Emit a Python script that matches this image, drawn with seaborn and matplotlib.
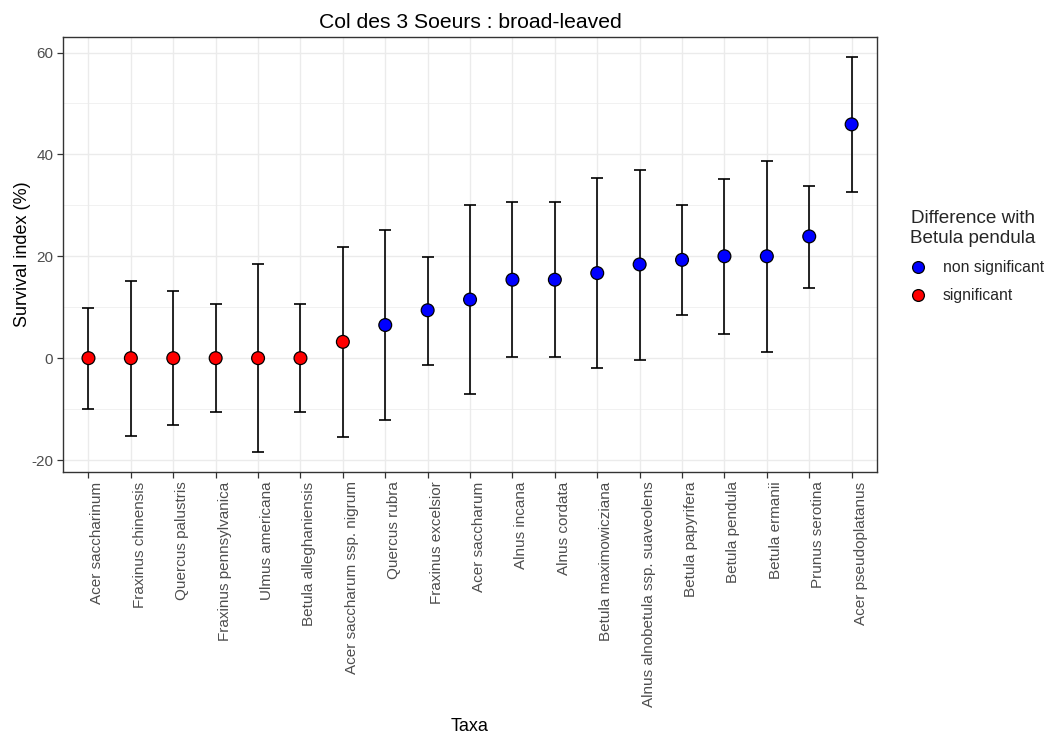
import matplotlib
matplotlib.use("Agg")
import matplotlib.pyplot as plt
import matplotlib.ticker as mticker
import matplotlib.transforms as mtransforms
import seaborn as sns
import pandas as pd
from matplotlib.lines import Line2D

taxa = [
    "Acer saccharinum", "Fraxinus chinensis", "Quercus palustris",
    "Fraxinus pennsylvanica", "Ulmus americana", "Betula alleghaniensis",
    "Acer saccharum ssp. nigrum", "Quercus rubra", "Fraxinus excelsior",
    "Acer saccharum", "Alnus incana", "Alnus cordata",
    "Betula maximowicziana", "Alnus alnobetula ssp. suaveolens",
    "Betula papyrifera", "Betula pendula", "Betula ermanii",
    "Prunus serotina", "Acer pseudoplatanus",
]
survival = [0, 0, 0, 0, 0, 0, 3.2, 6.5, 9.4, 11.5, 15.4, 15.4,
            16.7, 18.4, 19.3, 20.0, 20.0, 23.9, 45.9]
lower = [-9.9, -15.2, -13.2, -10.6, -18.4, -10.6, -15.4, -12.1, -1.3,
         -7.1, 0.3, 0.3, -2.0, -0.3, 8.5, 4.7, 1.3, 13.8, 32.7]
upper = [9.9, 15.2, 13.2, 10.6, 18.4, 10.6, 21.9, 25.1, 19.9,
         30.1, 30.6, 30.6, 35.4, 37.0, 30.1, 35.1, 38.7, 33.8, 59.1]
significance = ["significant"] * 7 + ["non significant"] * 12

df = pd.DataFrame({
    "Taxa": taxa,
    "Survival": survival,
    "lower": lower,
    "upper": upper,
    "Difference": significance,
})

sns.set_theme(style="whitegrid")
plt.rcParams["font.family"] = ["Liberation Sans", "DejaVu Sans"]
plt.rcParams["axes.unicode_minus"] = False

fig = plt.figure(figsize=(10.47, 7.38), dpi=100)
ax = fig.add_axes([0.0602, 0.3608, 0.7775, 0.5887])

# error bars (mean +/- interval)
ax.errorbar(
    df["Taxa"], df["Survival"],
    yerr=[df["Survival"] - df["lower"], df["upper"] - df["Survival"]],
    fmt="none", ecolor="black", elinewidth=1.2, capsize=4.5, capthick=1.2,
    zorder=2,
)

palette = {"non significant": "#0000FF", "significant": "#FF0000"}
sns.scatterplot(
    data=df, x="Taxa", y="Survival", hue="Difference",
    hue_order=["non significant", "significant"], palette=palette,
    s=85, edgecolor="black", linewidth=0.9, ax=ax, zorder=3, legend=False,
)

n = len(taxa)
ax.set_xlim(-0.6, n - 1 + 0.6)
ax.set_ylim(-22.3, 63.0)
ax.yaxis.set_major_locator(mticker.FixedLocator([-20, 0, 20, 40, 60]))
ax.yaxis.set_minor_locator(mticker.FixedLocator([-10, 10, 30, 50]))

ax.set_facecolor("white")
ax.grid(which="major", color="#EBEBEB", linewidth=1.0)
ax.grid(which="minor", axis="y", color="#EBEBEB", linewidth=0.5)
ax.set_axisbelow(True)
for sp in ax.spines.values():
    sp.set_visible(True)
    sp.set_color("#333333")
    sp.set_linewidth(1.0)

ax.tick_params(axis="both", which="major", length=4, width=0.9,
               color="#333333", labelcolor="#4D4D4D", labelsize=11,
               bottom=True, left=True, pad=3)
ax.tick_params(axis="both", which="minor", length=0)

# rotated category labels sit just to the right of their tick
shift = mtransforms.ScaledTranslation(2 / 100, 0, fig.dpi_scale_trans)
for lab in ax.get_xticklabels():
    lab.set_rotation(90)
    lab.set_ha("left")
    lab.set_va("top")
    lab.set_transform(lab.get_transform() + shift)

ax.set_xlabel("Taxa", fontsize=13, color="black", labelpad=8)
ax.set_ylabel("Survival index (%)", fontsize=13, color="black", labelpad=0)
ax.set_title("Col des 3 Soeurs : broad-leaved", fontsize=15.2, color="black",
             pad=7)

handles = [
    Line2D([0], [0], marker="o", linestyle="none", markersize=8.5,
           markerfacecolor=palette[k], markeredgecolor="black",
           markeredgewidth=0.9, label=k)
    for k in ["non significant", "significant"]
]
leg = fig.legend(
    handles=handles, title="Difference with\nBetula pendula",
    loc="center left", bbox_to_anchor=(0.848, 0.652), frameon=False,
    fontsize=11.3, title_fontsize=13.6, handletextpad=0.6, labelspacing=0.85,
    alignment="center",
)
leg.get_title().set_multialignment("center")

fig.savefig("out.png", dpi=100)
